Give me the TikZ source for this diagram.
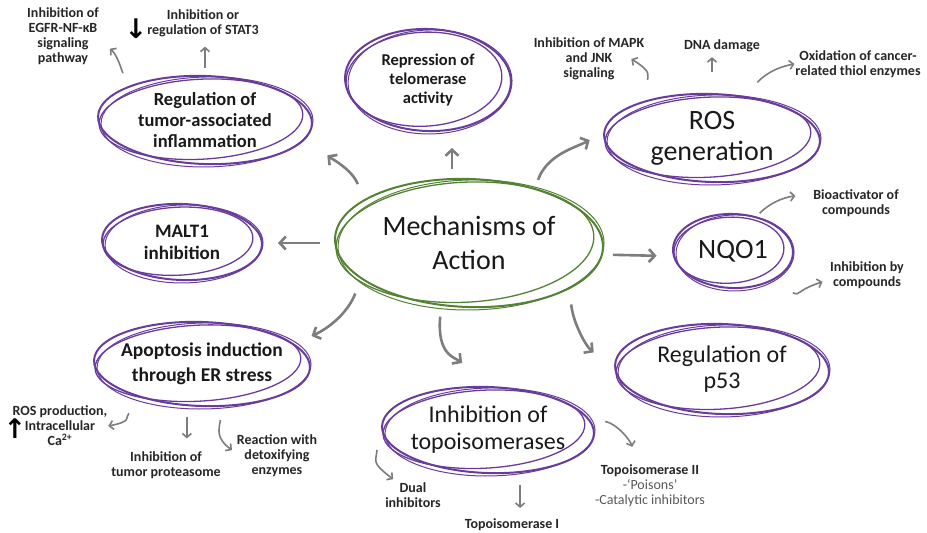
\documentclass[tikz,border=0pt]{standalone}
\usepackage{fontspec}
\setmainfont{Carlito}
\newfontfamily\arrowfont{DejaVu Sans}
\usetikzlibrary{shapes.geometric,arrows.meta}

\definecolor{ringpurple}{RGB}{105,60,155}
\definecolor{ringgreen}{RGB}{84,130,53}
\definecolor{arrowgray}{RGB}{125,125,125}

\begin{document}
\begin{tikzpicture}[x=1pt,y=-1pt,
	topic/.style={ellipse, inner sep=0pt, outer sep=0pt, align=center, text=black!90},
	note/.style={align=center, inner sep=1pt, outer sep=0pt, text=black!85, font=\fontsize{14}{15}\selectfont\bfseries},
	glyph/.style={inner sep=0pt, font=\arrowfont\bfseries\fontsize{27}{27}\selectfont},
	bigarrow/.style={draw=arrowgray, line width=2.6pt, -{Straight Barb[length=6pt,width=13pt]}},
	smallarrow/.style={draw=arrowgray, line width=1.6pt, -{Straight Barb[length=4pt,width=9pt]}}]

% canvas
	\fill[white] (0,0) rectangle (927,533);
	\useasboundingbox (0,0) rectangle (927,533);

% mechanisms
	\node[topic, minimum width=268pt, minimum height=128pt, font=\fontsize{28}{34}\selectfont] (moa) at (469,243) {Mechanisms of\\Action};
	\node[topic, minimum width=166pt, minimum height=102pt, font=\fontsize{16.5}{19}\selectfont\bfseries] (telo) at (428,80) {Repression of\\telomerase\\activity};
	\node[topic, minimum width=214pt, minimum height=88pt, font=\fontsize{18.5}{21}\selectfont\bfseries] (reg) at (205,120) {Regulation of\\tumor-associated\\inflammation};
	\node[topic, minimum width=160pt, minimum height=76pt, font=\fontsize{19}{22}\selectfont\bfseries] (malt) at (182,242) {MALT1\\inhibition};
	\node[topic, minimum width=216pt, minimum height=84pt, font=\fontsize{19.5}{25}\selectfont\bfseries] (apo) at (202,364) {Apoptosis induction\\through ER stress};
	\node[topic, minimum width=212pt, minimum height=86pt, font=\fontsize{24}{27}\selectfont] (topo) at (488,430) {Inhibition of\\topoisomerases};
	\node[topic, minimum width=216pt, minimum height=88pt, font=\fontsize{28}{31}\selectfont] (ros) at (712,138) {ROS\\generation};
	\node[topic, minimum width=120pt, minimum height=74pt, font=\fontsize{28}{31}\selectfont] (nqo) at (733,251) {NQO1};
	\node[topic, minimum width=214pt, minimum height=90pt, font=\fontsize{24}{26}\selectfont] (p53) at (722,369) {Regulation of\\p53};

% hand drawn rings
	\foreach \n/\rx/\ry/\col in {moa/134/64/ringgreen, telo/83/51/ringpurple, reg/107/44/ringpurple, malt/80/38/ringpurple, apo/108/42/ringpurple, topo/106/43/ringpurple, ros/108/44/ringpurple, nqo/60/37/ringpurple, p53/107/45/ringpurple}{
		\draw[color=\col, line width=2pt, rotate around={-2:(\n.center)}] (\n.center) ellipse ({\rx*1pt} and {\ry*1pt});
		\draw[color=\col, line width=1.3pt, rotate around={3:(\n.center)}] ([xshift=-4pt,yshift=1pt]\n.center) ellipse ({(\rx-5)*1pt} and {(\ry-4)*1pt});
		\draw[color=\col, line width=1pt, rotate around={1:(\n.center)}] ([xshift=2pt,yshift=-2pt]\n.center) ellipse ({(\rx-1)*1pt} and {(\ry+1)*1pt});
	}

% notes
	\node[note] (egfr) at (63,36) {Inhibition of\\EGFR-NF-κB\\signaling\\pathway};
	\node[note] (stat) at (203,23) {Inhibition or\\regulation of STAT3};
	\node[glyph] (down) at (136,29) {↓};
	\node[note] (mapk) at (589,59) {Inhibition of MAPK\\and JNK\\signaling};
	\node[note] (dna) at (722,46) {DNA damage};
	\node[note] (oxid) at (858,64) {Oxidation of cancer-\\related thiol enzymes};
	\node[note] (bio) at (856,203) {Bioactivator of\\compounds};
	\node[note] (inhb) at (867,275) {Inhibition by\\compounds};
	\node[note] (rosprod) at (60,426) {ROS production,\\Intracellular\\Ca\textsuperscript{2+}};
	\node[glyph] (up) at (15,429) {↑};
	\node[note] (prot) at (166,465) {Inhibition of\\tumor proteasome};
	\node[note] (react) at (277,456) {Reaction with\\detoxifying\\enzymes};
	\node[note] (dual) at (413,495) {Dual\\inhibitors};
	\node[note] (topoI) at (512,525) {Topoisomerase I};
	\node[note] (topoII) at (650,486) {Topoisomerase II\\{\mdseries\color{black!65}-`Poisons'}\\{\mdseries\color{black!65}-Catalytic inhibitors}};

% arrows from the centre
	\draw[bigarrow, shorten <=8pt, shorten >=17pt] (moa.40) to[out=70,in=207] (ros.177);
	\draw[bigarrow, shorten <=11pt, shorten >=17pt] (moa.105) -- (moa.105 |- telo.south);
	\draw[bigarrow, shorten <=20pt, shorten >=30pt] (moa.159) to[out=110,in=-37] (reg.-10);
	\draw[bigarrow, shorten <=15pt, shorten >=16pt] (moa.west) -- (moa.west -| malt.east);
	\draw[bigarrow, shorten <=12pt, shorten >=17pt] (moa.-5) -- (nqo.185);
	\draw[bigarrow, shorten <=14pt, shorten >=14pt] (moa.199) to[out=249,in=24] (apo.13);
	\draw[bigarrow, shorten <=11pt, shorten >=40pt] (moa.246) to[out=265,in=143,looseness=1.3] (topo.82);
	\draw[bigarrow, shorten <=19pt, shorten >=27pt] (moa.-23) to[out=-84,in=142] (p53.180);

% arrows to the notes
	\draw[smallarrow, shorten <=17pt, shorten >=13pt] (reg.158) to[out=110,in=-39] (egfr.-7);
	\draw[smallarrow, shorten <=8pt, shorten >=9pt] (reg.north) -- (reg.north |- stat.south);
	\draw[smallarrow, shorten <=22pt] (ros.149) to[out=100,in=-31,looseness=1.4] ([xshift=-14pt]mapk.east);
	\draw[smallarrow, shorten <=22pt, shorten >=4pt] (ros.north) -- (ros.north |- dna.south);
	\draw[smallarrow, shorten <=18pt] (ros.51) to[out=50,in=190] (oxid.west);
	\draw[smallarrow, shorten <=5pt, shorten >=17pt] (nqo.56) to[out=45,in=185] (bio.169);
	\draw[smallarrow, shorten <=27pt, shorten >=7pt] (nqo.-40) to[out=-26,in=198,looseness=1.5] (inhb.187);
	\draw[smallarrow, shorten <=19pt] (apo.211) to[out=225,in=11,looseness=1.5] (rosprod.east);
	\draw[smallarrow, shorten <=11pt, shorten >=12pt] (apo.250) -- (apo.250 |- prot.north);
	\draw[smallarrow, shorten <=15pt, shorten >=5pt] (apo.-63) to[out=260,in=143,looseness=1.3] (react.176);
	\draw[smallarrow, shorten <=20pt, shorten >=4pt] (topo.west) to[out=265,in=143,looseness=1.5] (dual.141);
	\draw[smallarrow, shorten <=14pt, shorten >=10pt] (topo.-52) -- (topo.-52 |- topoI.north);
	\draw[smallarrow, shorten <=12pt, shorten >=18pt] (topo.6) to[out=-12,in=108] (topoII.119);

\end{tikzpicture}
\end{document}
